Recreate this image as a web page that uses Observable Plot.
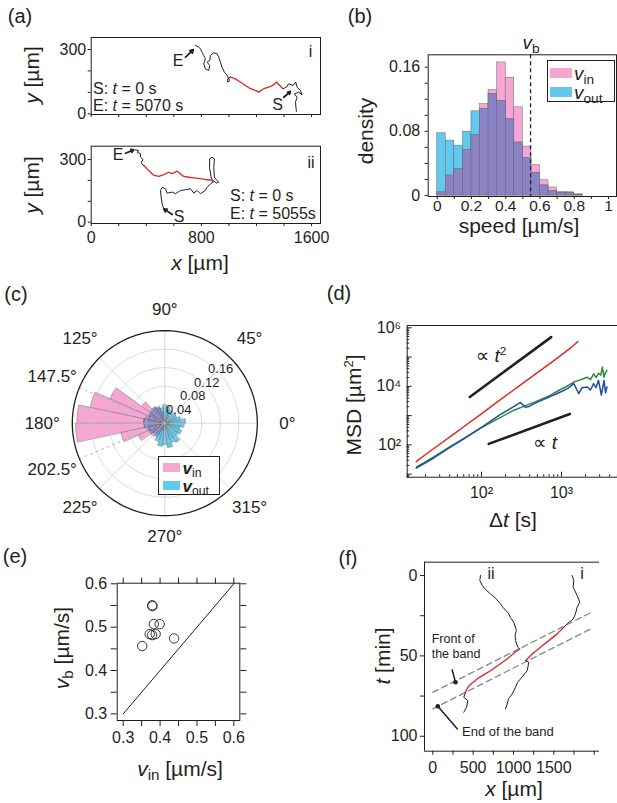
<!DOCTYPE html>
<html>
<head>
<meta charset="utf-8">
<script src="https://cdn.jsdelivr.net/npm/d3@7"></script>
<script src="https://cdn.jsdelivr.net/npm/@observablehq/plot@0.6"></script>
<style>
html, body { margin: 0; padding: 0; background: #fff; }
#fig { position: relative; width: 617px; height: 803px; overflow: hidden; background: #fff;
  font-family: "Liberation Sans", Arial, "DejaVu Sans", sans-serif; color: #231f20; }
#fig > svg { position: absolute; left: 0; top: 0; }
.t { position: absolute; white-space: nowrap; line-height: 1; }
.t sub { font-size: 0.72em; vertical-align: -0.3em; line-height: 0; font-style: normal; }
.t sup { font-size: 0.62em; vertical-align: 0.55em; line-height: 0; }
.box { position: absolute; border: 1px solid #231f20; background: #fff; box-sizing: border-box; }
.sw { position: absolute; }
</style>
</head>
<body>
<div id="fig"></div>
<script>
// ================= DATA =================
// (a) trajectories [x µm, y µm]; red part = inside the band
const trajI_start = [[1490,11],[1483,54],[1495,77],[1475,93],[1507,101],[1531,89],[1519,109],[1495,124],[1485,148],[1466,132],[1434,140],[1417,124],[1393,117]];
const trajI_band = [[1393,117],[1369,132],[1345,148],[1325,135],[1289,124],[1253,117],[1216,101],[1192,109],[1156,117],[1120,132],[1083,148],[1047,163],[1011,171]];
const trajI_end = [[1011,171],[991,163],[991,148],[1006,155],[987,179],[967,194],[950,217],[938,241],[926,264],[914,280],[890,285],[866,272],[861,249],[842,241],[861,225],[853,202],[829,210],[817,233],[829,257],[817,272],[805,287],[793,303],[781,311],[757,319]];
const trajII_start = [[527,64],[515,88],[508,120],[503,152],[515,167],[539,160],[552,139],[588,144],[612,136],[648,152],[684,155],[721,160],[745,139],[769,152],[793,136],[829,152],[842,167],[866,184],[885,191],[871,215],[859,263],[861,303],[878,311],[895,303],[890,263],[895,215],[909,203],[926,191],[909,187],[885,200]];
const trajII_band = [[885,200],[842,203],[793,208],[745,212],[708,215],[672,219],[648,232],[624,244],[588,232],[563,239],[527,228],[491,219],[454,225],[430,239],[406,255],[382,271]];
const trajII_end = [[382,271],[370,276],[363,287],[377,299],[358,311],[358,327],[334,335],[345,343],[321,346]];
const arrowsI = [[[685,264],[741,299]],[[1399,77],[1447,104]]];
const arrowsII = [[[249,330],[309,346]],[[588,37],[527,64]]];
const aXTickVals = [0,200,400,600,800,1000,1200,1400,1600];
const aXTickLabels = [0,800,1600];
const aYTickVals = [0,100,200,300];
const aYTickLabels = [0,300];

// (b) speed histogram (density per 0.05 bin)
const speedBinStart = [0,0.05,0.1,0.15,0.2,0.25,0.3,0.35,0.4,0.45,0.5,0.55,0.6,0.65,0.7,0.75,0.8];
const speedBinWidth = 0.05;
const vInDensity  = [0.004,0.025,0.033,0.057,0.0755,0.114,0.1315,0.166,0.147,0.110,0.061,0.038,0.019,0.010,0.0046,0.004,0.0012];
const vOutDensity = [0.0776,0.0685,0.0622,0.0797,0.105,0.108,0.1266,0.118,0.095,0.066,0.047,0.028,0.0125,0.0055,0.0033,0.003,0.0012];
const vBand = 0.545;
const bXTickVals = [0,0.1,0.2,0.3,0.4,0.5,0.6,0.7,0.8,0.9,1];
const bXTickLabels = ["0","","0.2","","0.4","","0.6","","0.8","","1"];
const bYTickVals = [0,0.02,0.04,0.06,0.08,0.1,0.12,0.14,0.16];
const bYTickLabels = ["0","","","","0.08","","","","0.16"];

// (c) polar histogram of direction (12° bins)
const angleBinStart = [0,12,24,36,48,60,72,84,96,108,120,132,144,156,168,180,192,204,216,228,240,252,264,276,288,300,312,324,336,348];
const angleBinWidth = 12;
const vInAngle  = [0.010,0.005,0.005,0.004,0.005,0.005,0.006,0.008,0.025,0.035,0.040,0.062,0.130,0.165,0.190,0.193,0.097,0.063,0.038,0.030,0.015,0.008,0.007,0.006,0.005,0.005,0.005,0.005,0.006,0.008];
const vOutAngle = [0.045,0.035,0.028,0.030,0.026,0.030,0.036,0.040,0.034,0.038,0.042,0.040,0.038,0.042,0.046,0.045,0.040,0.036,0.032,0.035,0.042,0.050,0.046,0.053,0.044,0.048,0.036,0.040,0.034,0.042];
const ringValues = [0.04,0.08,0.12,0.16];
const rMax = 0.2;
const spokeAngles = [0,45,90,135,180,225,270,315];
const dashedAngles = [157.5,202.5];
const angleTickAt = [0,45,90,135,157.5,180,202.5,225,270,315];
const angleTickText = ["0°","45°","90°","125°","147.5°","180°","202.5°","225°","270°","315°"];

// (d) MSD curves [Δt s, MSD µm²]
const msdRed = [[15.3,27],[20,47],[30,105],[45,235],[70,570],[100,1150],[150,2650],[220,5700],[330,12800],[500,29500],[750,66000],[1000,118000],[1300,205000],[1600,340000]];
const msdGreen = [[15.3,17.3],[25,38],[40,85],[63,180],[100,390],[173,870],[250,1500],[355,2200],[500,3200],[700,4700],[970,7800],[1200,10500],[1425,14000],[1645,16000],[1800,17500],[2100,20500],[2300,17000],[2520,26800],[2700,20000],[2900,28000],[3100,24000],[3250,45600],[3400,20500],[3550,30000],[3700,35000]];
const msdBlue = [[15.3,16],[25,35],[40,80],[63,175],[100,395],[173,1100],[250,2000],[307,2820],[355,1910],[400,2100],[500,2900],[700,4300],[970,6400],[1200,8500],[1425,12400],[1645,5600],[1800,9000],[2100,9500],[2300,7500],[2520,12400],[2700,9000],[2900,16000],[3150,5000],[3400,16000],[3550,6000],[3700,9500]];
const refT2 = [[71.4,4330],[743,480000]];
const refT1 = [[123,108],[1270,1140]];
const dXTickVals = [100,1000];
const dXTickText = ["10²","10³"];
const dYTickVals = [100,10000,1000000];
const dYTickText = ["10²","10⁴","10⁶"];

// (e) v_b vs v_in
const vInPts = [0.3786,0.3792,0.3515,0.372,0.3786,0.383,0.399,0.388,0.438];
const vbPts  = [0.5505,0.5485,0.4565,0.484,0.4817,0.507,0.507,0.484,0.474];
const eDiag = [0.3,0.6];
const eTickVals = [0.3,0.35,0.4,0.45,0.5,0.55,0.6];
const eTickLabels = ["0.3","","0.4","","0.5","","0.6"];

// (f) x(t) traces [x µm, t min]
const fII_start = [[591,0],[583,3.1],[612,6.2],[650,8.5],[715,11.4],[780,14.2],[839,17.6],[870,19.8],[942,23.8],[960,26],[1004,29.1],[1037,34.2],[1020,37],[1025,40.5],[1053,44.6],[1078,45.7]];
const fII_band = [[1078,45.7],[1000,48.5],[922,51.9],[820,55.5],[715,59.2],[630,61.8],[550,64.3],[480,67.2],[434,69.5],[405,72.7]];
const fII_end = [[405,72.7],[384,75.8],[434,77.8],[418,82.0],[384,85.1]];
const fI_start = [[1727,0],[1747,3.1],[1740,7.3],[1789,12.5],[1822,16.6],[1789,19.7],[1768,23.8],[1740,27.0],[1665,30.1],[1623,32.2]];
const fI_band = [[1623,32.2],[1541,36.3],[1437,40.5],[1335,44.6],[1232,48.8],[1170,51.9],[1149,52.9]];
const fI_end = [[1149,52.9],[1190,54.0],[1170,59.2],[1087,64.3],[1050,66.5],[1025,69.5],[984,73.7],[940,76.5],[922,79.9],[901,83.0]];
const bandFront = [[0,72.7],[1980,22.5]];
const bandEnd = [[0,83],[1980,32.6]];
const frontPointer = [[240,58.7],[281,66.4]];
const endPointer = [[302,95.4],[62,81.3]];
const pointerDots = [[281,66.4],[62,81.3]];
const fXTickVals = [0,250,500,750,1000,1250,1500,1750,2000];
const fXTickLabels = ["0","","500","","1000","","1500","",""];
const fYTickVals = [0,25,50,75,100];
const fYTickLabels = ["0","","50","","100"];

// ================= STYLE =================
const INK = "#231f20";
const RED = "#e5231f", GREEN = "#2e8b3c", BLUE = "#1e4fa2";
const PINK = "#f5a6d3", SKY = "#62c8ee", PURPLE = "#8c83c7", EDGE = "#6a6a6a";
const BANDGREY = "#7d8b97";
const FONT = '"Liberation Sans", Arial, "DejaVu Sans", sans-serif';
const deg = Math.PI / 180;
const fig = document.getElementById("fig");

function P(F, o) {
  return Plot.plot(Object.assign({
    width: 617, height: 803,
    marginLeft: F.L, marginTop: F.T, marginRight: 617 - F.R, marginBottom: 803 - F.B,
    style: {background: "transparent", overflow: "visible", fontFamily: FONT, fontSize: "16px", color: INK}
  }, o));
}
function add(el) { fig.appendChild(el); }
function T(html, x, y, o = {}) {
  const d = document.createElement("div");
  d.className = "t";
  d.innerHTML = html;
  d.style.left = x + "px"; d.style.top = y + "px";
  d.style.fontSize = (o.size || 16) + "px";
  if (o.lh) d.style.lineHeight = o.lh;
  const ax = o.anchor === "start" ? "0" : o.anchor === "end" ? "-100%" : "-50%";
  d.style.transform = `translate(${ax},-50%)` + (o.rot ? ` rotate(${o.rot}deg)` : "");
  fig.appendChild(d);
}
function box(x, y, w, h) {
  const d = document.createElement("div");
  d.className = "box";
  Object.assign(d.style, {left: x + "px", top: y + "px", width: w + "px", height: h + "px"});
  fig.appendChild(d);
}
function sw(x, y, w, h, c) {
  const d = document.createElement("div");
  d.className = "sw";
  Object.assign(d.style, {left: x + "px", top: y + "px", width: w + "px", height: h + "px", background: c});
  fig.appendChild(d);
}
const lbl = (vals, labels) => d => { const i = vals.indexOf(d); return i >= 0 ? labels[i] : ""; };

// ================= (a) =================
const F_A1 = {L: 90.7, T: 37, R: 320, B: 114};
const F_A2 = {L: 90.7, T: 145.7, R: 320, B: 223};
function trajPanel(F, ydom, segs, arrows, showX) {
  return P(F, {
    x: {domain: [0, 1665], axis: null},
    y: {domain: ydom, axis: null},
    marks: [
      Plot.line(segs[0], {stroke: INK, strokeWidth: 1}),
      Plot.line(segs[1], {stroke: RED, strokeWidth: 1.3}),
      Plot.line(segs[2], {stroke: INK, strokeWidth: 1}),
      Plot.arrow(arrows, {x1: d => d[0][0], y1: d => d[0][1], x2: d => d[1][0], y2: d => d[1][1],
        stroke: INK, strokeWidth: 1.8, headLength: 6}),
      Plot.frame({stroke: INK, strokeWidth: 1}),
      Plot.axisX(aXTickVals, {anchor: "bottom", tickSize: 3, tickPadding: 5, fontSize: 16, label: null,
        tickFormat: showX ? (d => aXTickLabels.includes(d) ? String(d) : "") : (() => "")}),
      Plot.axisY(aYTickVals, {anchor: "left", tickSize: 3, tickPadding: 2, fontSize: 16, label: null,
        tickFormat: d => aYTickLabels.includes(d) ? String(d) : ""})
    ]
  });
}
add(trajPanel(F_A1, [-3.3, 356], [trajI_start, trajI_band, trajI_end], arrowsI, false));
add(trajPanel(F_A2, [-6.2, 363.6], [trajII_start, trajII_band, trajII_end], arrowsII, true));

// ================= (b) =================
const F_B = {L: 427.7, T: 54.3, R: 616, B: 196};
const hist = speedBinStart.map((s, i) => ({x1: s, x2: s + speedBinWidth, vin: vInDensity[i], vout: vOutDensity[i]}));
add(P(F_B, {
  x: {domain: [-0.0525, 1.0467], axis: null},
  y: {domain: [-0.00125, 0.1755], axis: null},
  marks: [
    Plot.rect(hist, {x1: "x1", x2: "x2", y1: () => 0, y2: "vin", fill: PINK, stroke: EDGE, strokeWidth: 0.5}),
    Plot.rect(hist, {x1: "x1", x2: "x2", y1: () => 0, y2: "vout", fill: SKY, stroke: EDGE, strokeWidth: 0.5}),
    Plot.rect(hist, {x1: "x1", x2: "x2", y1: () => 0, y2: d => Math.min(d.vin, d.vout), fill: PURPLE, stroke: EDGE, strokeWidth: 0.5}),
    Plot.ruleX([vBand], {stroke: INK, strokeWidth: 1.3, strokeDasharray: "4,3"}),
    Plot.frame({stroke: INK}),
    Plot.axisX(bXTickVals, {anchor: "bottom", tickSize: 3, tickPadding: 0, fontSize: 15.5, label: null, tickFormat: lbl(bXTickVals, bXTickLabels)}),
    Plot.axisY(bYTickVals, {anchor: "left", tickSize: 3, tickPadding: 5, fontSize: 16, label: null, tickFormat: lbl(bYTickVals, bYTickLabels)})
  ]
}));

// ================= (c) =================
const F_C = {L: 71.8, T: 330.2, R: 256.8, B: 515.2};
function wedges(values) {
  const pts = [];
  values.forEach((r, k) => {
    const a0 = angleBinStart[k], a1 = a0 + angleBinWidth;
    pts.push({k, x: 0, y: 0});
    for (let a = a0; a <= a1 + 1e-9; a += 1) pts.push({k, x: r * Math.cos(a * deg), y: r * Math.sin(a * deg)});
  });
  return pts;
}
function rings(vals) {
  const pts = [];
  vals.forEach((r, k) => { for (let a = 0; a < 360; a += 2) pts.push({k, x: r * Math.cos(a * deg), y: r * Math.sin(a * deg)}); });
  return pts;
}
const minAngle = vInAngle.map((v, i) => Math.min(v, vOutAngle[i]));
const labR = a => 0.245 + 0.02 * Math.abs(Math.cos(a * deg));
add(P(F_C, {
  x: {domain: [-rMax, rMax], axis: null},
  y: {domain: [-rMax, rMax], axis: null},
  marks: [
    Plot.line(wedges(vInAngle), {x: "x", y: "y", z: "k", fill: PINK, stroke: EDGE, strokeWidth: 0.5, curve: "linear-closed"}),
    Plot.line(wedges(vOutAngle), {x: "x", y: "y", z: "k", fill: SKY, stroke: EDGE, strokeWidth: 0.5, curve: "linear-closed"}),
    Plot.line(wedges(minAngle), {x: "x", y: "y", z: "k", fill: PURPLE, stroke: EDGE, strokeWidth: 0.5, curve: "linear-closed"}),
    Plot.line(rings(ringValues), {x: "x", y: "y", z: "k", stroke: "#c4c4c4", strokeOpacity: 0.8, strokeWidth: 0.8, curve: "linear-closed"}),
    Plot.link(spokeAngles, {x1: () => 0, y1: () => 0, x2: a => rMax * Math.cos(a * deg), y2: a => rMax * Math.sin(a * deg),
      stroke: "#c4c4c4", strokeOpacity: 0.8, strokeWidth: 0.8}),
    Plot.link(dashedAngles, {x1: () => 0, y1: () => 0, x2: a => rMax * Math.cos(a * deg), y2: a => rMax * Math.sin(a * deg),
      stroke: "#b0b0b0", strokeWidth: 0.9, strokeDasharray: "3,3"}),
    Plot.line(rings([rMax]), {x: "x", y: "y", z: "k", stroke: INK, strokeWidth: 1.3, curve: "linear-closed"}),
    Plot.text(angleTickAt, {x: a => labR(a) * Math.cos(a * deg), y: a => labR(a) * Math.sin(a * deg),
      text: (d, i) => angleTickText[i], fontSize: 17, fill: INK}),
    Plot.text(ringValues, {x: v => v * 1.05 * Math.cos(44 * deg), y: v => v * 1.05 * Math.sin(44 * deg),
      text: v => v.toFixed(2), fontSize: 13, fill: INK})
  ]
}));

// ================= (d) =================
const F_D = {L: 406.7, T: 325, R: 617, B: 476.7};
const dXDom = [11.78, 5012], dYDom = [7.87, 1.198e6];
const dXMajor = [], dXMinor = [], dYMajor = [], dYMinor = [];
for (let k = 0; k <= 6; k++) {
  const p = Math.pow(10, k);
  if (p >= dXDom[0] && p <= dXDom[1]) dXMajor.push(p);
  if (p >= dYDom[0] && p <= dYDom[1]) dYMajor.push(p);
  for (let m = 2; m <= 9; m++) {
    const v = m * p;
    if (v > dXDom[0] && v < dXDom[1]) dXMinor.push(v);
    if (v > dYDom[0] && v < dYDom[1]) dYMinor.push(v);
  }
}
const fhD = F_D.B - F_D.T, fwD = F_D.R - F_D.L;
add(P(F_D, {
  x: {type: "log", domain: dXDom, axis: null},
  y: {type: "log", domain: dYDom, axis: null},
  marks: [
    Plot.frame({stroke: INK}),
    Plot.tickX(dXMajor, {x: d => d, insetTop: fhD - 5, stroke: INK}),
    Plot.tickX(dXMinor, {x: d => d, insetTop: fhD - 2.5, stroke: INK}),
    Plot.tickY(dYMajor, {y: d => d, insetRight: fwD - 5, stroke: INK}),
    Plot.tickY(dYMinor, {y: d => d, insetRight: fwD - 2.5, stroke: INK}),
    Plot.line(refT2, {stroke: INK, strokeWidth: 2.6}),
    Plot.line(refT1, {stroke: INK, strokeWidth: 2.6}),
    Plot.line(msdGreen, {stroke: GREEN, strokeWidth: 1.5}),
    Plot.line(msdBlue, {stroke: BLUE, strokeWidth: 1.5}),
    Plot.line(msdRed, {stroke: RED, strokeWidth: 1.5}),
    Plot.axisX(dXTickVals, {anchor: "bottom", tickSize: 0, tickPadding: 9, fontSize: 16, label: null, tickFormat: lbl(dXTickVals, dXTickText)}),
    Plot.axisY(dYTickVals, {anchor: "left", tickSize: 0, tickPadding: 6, fontSize: 16, label: null, tickFormat: lbl(dYTickVals, dYTickText)})
  ]
}));

// ================= (e) =================
const F_E = {L: 116.7, T: 582.7, R: 239.3, B: 720};
add(P(F_E, {
  x: {domain: [0.2837, 0.6162], axis: null},
  y: {domain: [0.2847, 0.6014], axis: null},
  marks: [
    Plot.frame({stroke: INK}),
    Plot.line(eDiag.map(v => [v, v]), {stroke: INK, strokeWidth: 1}),
    Plot.dot(vInPts.map((v, i) => [v, vbPts[i]]), {x: d => d[0], y: d => d[1], r: 4.7, stroke: INK, strokeWidth: 0.9, fill: "none"}),
    Plot.axisX(eTickVals, {anchor: "bottom", tickSize: 6, tickPadding: 5, fontSize: 16, label: null, tickFormat: lbl(eTickVals, eTickLabels)}),
    Plot.axisX(eTickVals, {anchor: "top", tickSize: 6, label: null, tickFormat: () => ""}),
    Plot.axisY(eTickVals, {anchor: "left", tickSize: 6, tickPadding: 4, fontSize: 16, label: null, tickFormat: lbl(eTickVals, eTickLabels)}),
    Plot.axisY(eTickVals, {anchor: "right", tickSize: 6, label: null, tickFormat: () => ""})
  ]
}));

// ================= (f) =================
const F_F = {L: 424, T: 561.7, R: 599, B: 750.7};
const fXDom = [-103, 2066], fYDom = [-8.3, 109.3];
add(P(F_F, {
  x: {domain: fXDom, axis: null},
  y: {domain: fYDom, reverse: true, axis: null},
  marks: [
    Plot.ruleX([fXDom[0]], {stroke: INK}),
    Plot.ruleY(fYDom, {stroke: INK}),
    Plot.line(bandFront, {stroke: BANDGREY, strokeWidth: 1.3, strokeDasharray: "6,4"}),
    Plot.line(bandEnd, {stroke: BANDGREY, strokeWidth: 1.3, strokeDasharray: "6,4"}),
    Plot.line(fII_start, {stroke: INK, strokeWidth: 1}),
    Plot.line(fII_band, {stroke: RED, strokeWidth: 1.3}),
    Plot.line(fII_end, {stroke: INK, strokeWidth: 1}),
    Plot.line(fI_start, {stroke: INK, strokeWidth: 1}),
    Plot.line(fI_band, {stroke: RED, strokeWidth: 1.3}),
    Plot.line(fI_end, {stroke: INK, strokeWidth: 1}),
    Plot.line(frontPointer, {stroke: INK, strokeWidth: 1.5}),
    Plot.line(endPointer, {stroke: INK, strokeWidth: 1.5}),
    Plot.dot(pointerDots, {x: d => d[0], y: d => d[1], r: 2.3, fill: INK}),
    Plot.axisX(fXTickVals, {anchor: "bottom", tickSize: 4, tickPadding: 6, fontSize: 16, label: null, tickFormat: lbl(fXTickVals, fXTickLabels)}),
    Plot.axisY(fYTickVals, {anchor: "left", tickSize: 4, tickPadding: 3, fontSize: 16, label: null, tickFormat: lbl(fYTickVals, fYTickLabels)})
  ]
}));

// ================= TEXT OVERLAYS =================
T("(a)", 20, 16, {size: 20}); T("(b)", 360, 16, {size: 20}); T("(c)", 16, 294, {size: 20});
T("(d)", 339, 293, {size: 20}); T("(e)", 15, 556, {size: 20}); T("(f)", 348, 558, {size: 20});
// (a)
T("<i>y</i> [µm]", 31, 75, {size: 21, rot: -90});
T("<i>y</i> [µm]", 31, 185, {size: 21, rot: -90});
T("<i>x</i> [µm]", 200, 262, {size: 21});
T("S: <i>t</i> = 0 s", 93, 88.5, {anchor: "start"});
T("E: <i>t</i> = 5070 s", 93, 106, {anchor: "start"});
T("E", 178, 61); T("S", 277.5, 105); T("i", 310.5, 51.7);
T("E", 118, 155); T("S", 179, 216.7); T("ii", 311, 163.3);
T("S: <i>t</i> = 0 s", 230, 196, {anchor: "start"});
T("E: <i>t</i> = 5055s", 230, 214, {anchor: "start"});
// (b)
T("density", 365, 131, {size: 21, rot: -90});
T("speed [µm/s]", 519, 225, {size: 21});
T("<i>v</i><sub>b</sub>", 531, 42, {size: 19});
box(546.7, 60, 68.3, 41.7);
sw(550, 68.3, 21.7, 10, PINK); sw(550, 87.3, 21.7, 10, SKY);
T("<i>v</i><sub>in</sub>", 574, 72.5, {size: 19, anchor: "start"});
T("<i>v</i><sub>out</sub>", 574, 91.5, {size: 19, anchor: "start"});
// (c)
box(158.3, 456, 61.7, 39);
sw(163.3, 463.3, 16.7, 8.7, PINK); sw(163.3, 480.5, 16.7, 9.3, SKY);
T("<b><i>v</i></b><sub>in</sub>", 182.5, 467.5, {size: 17, anchor: "start"});
T("<b><i>v</i></b><sub>out</sub>", 182.5, 485.5, {size: 17, anchor: "start"});
// (d)
T("MSD [µm<sup>2</sup>]", 352.5, 405, {size: 21, rot: -90});
T("Δ<i>t</i> [s]", 513, 519, {size: 21});
T("∝ <i>t</i><sup>2</sup>", 491, 355, {size: 19});
T("∝ <i>t</i>", 545, 442, {size: 19});
// (e)
T("<i>v</i><sub>b</sub> [µm/s]", 61, 648, {size: 21, rot: -90});
T("<i>v</i><sub>in</sub> [µm/s]", 180, 768, {size: 21});
// (f)
T("<i>t</i> [min]", 382, 656, {size: 21, rot: -90});
T("<i>x</i> [µm]", 514, 788, {size: 21});
T("ii", 491, 574); T("i", 582, 574);
T("Front of", 431.7, 639, {size: 12.5, anchor: "start"});
T("the band", 431.7, 654, {size: 12.5, anchor: "start"});
T("End of the band", 462, 731, {size: 13, anchor: "start"});
</script>
</body>
</html>
